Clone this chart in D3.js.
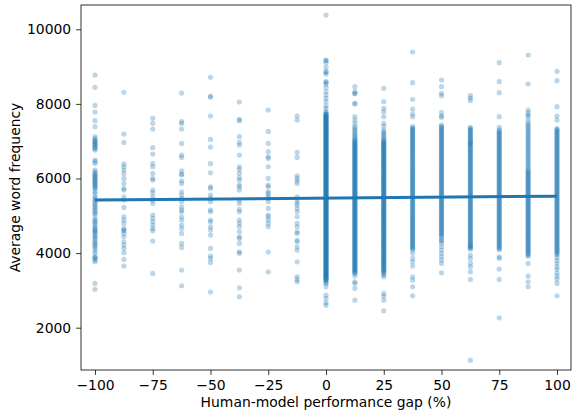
<!DOCTYPE html>
<html><head><meta charset="utf-8">
<script src="https://cdn.jsdelivr.net/npm/d3@7"></script>
<style>body{margin:0;background:#fff}svg{display:block}text{font-family:"DejaVu Sans",sans-serif}</style>
</head><body><svg id="c" width="573" height="419"></svg>
<script>
const gapLevels = [-100, -87.5, -75, -62.5, -50, -37.5, -25, -12.5, 0, 12.5, 25, 37.5, 50, 62.5, 75, 87.5, 100];
const xTicks = [-100, -75, -50, -25, 0, 25, 50, 75, 100];
const yTicks = [2000, 4000, 6000, 8000, 10000];

const freqM100 = [8774, 8443, 7960, 7782, 7549, 7388, 7120, 7070, 7031, 7000, 6985, 6941, 6920, 6900, 6852, 6830, 6800, 6762, 6494, 6450, 6405, 6226, 6180, 6137, 6100, 6090, 6047, 6020, 6000, 5958, 5930, 5910, 5869, 5850, 5820, 5780, 5750, 5730, 5645, 5600, 5511, 5470, 5420, 5378, 5330, 5290, 5243, 5200, 5155, 5110, 5065, 5020, 4920, 4887, 4840, 4800, 4752, 4700, 4660, 4618, 4590, 4570, 4529, 4480, 4440, 4400, 4350, 4300, 4261, 4220, 4180, 4127, 4060, 3993, 3900, 3880, 3859, 3810, 3770, 3188, 3028];
const freqM87 = [8309, 7191, 6968, 6387, 6315, 6226, 6137, 6002, 5869, 5734, 5690, 5511, 5421, 5225, 4974, 4885, 4796, 4661, 4617, 4600, 4527, 4438, 4304, 4214, 4125, 4009, 3830, 3651];
const freqM75 = [7612, 7478, 7326, 6825, 6655, 6405, 6315, 6137, 6002, 5958, 5690, 5618, 5511, 5421, 5332, 5019, 4930, 4840, 4751, 4661, 4599, 4322, 3455];
const freqM62 = [8291, 7522, 7477, 7325, 6941, 6628, 6566, 6208, 6119, 6100, 5940, 5869, 5645, 5555, 5466, 5377, 5243, 5153, 5108, 4974, 4885, 4751, 4661, 4527, 4259, 4152, 3544, 3124];
const freqM50 = [8711, 8211, 8175, 7674, 7048, 6843, 6396, 6154, 5779, 5734, 5555, 5466, 5377, 5153, 5108, 4885, 4840, 4706, 4617, 4483, 4125, 3919, 3857, 3750, 2954];
const freqM37 = [8050, 7585, 7549, 7120, 6968, 6896, 6628, 6315, 6244, 6137, 6020, 5958, 5824, 5779, 5690, 5421, 5332, 5171, 5108, 4885, 4796, 4706, 4572, 4438, 4393, 4259, 4036, 3991, 3544, 3070, 2829];
const freqM25 = [7835, 7263, 6941, 6718, 6583, 6539, 6315, 6002, 5824, 5779, 5645, 5600, 5529, 5466, 5377, 5198, 5019, 4974, 4885, 4796, 4706, 4027, 3499];
const freqM12 = [7674, 7567, 6700, 6566, 6074, 6002, 5940, 5869, 5511, 5421, 5350, 5287, 5198, 5108, 4974, 4796, 4706, 4572, 4527, 4349, 4304, 4170, 4080, 3767, 3365, 3294, 3231];
const freq0 = [10383, 9176, 9160, 9105, 8979, 8863, 8850, 8801, 8595, 8580, 8532, 8443, 8327, 8237, 8148, 8059, 7942, 7880, 7790, 7760, 7728,
 7712, 7697, 7680, 7665, 7648, 7633, 7616, 7601, 7584, 7569, 7552, 7537, 7520, 7505, 7488, 7473, 7456, 7441, 7424, 7409, 7392, 7377, 7360, 7345, 7328, 7313, 7296, 7281, 7264, 7249, 7232, 7217, 7200, 7185, 7168, 7153, 7136, 7121, 7104, 7089, 7072, 7057, 7040, 7025, 7008, 6993, 6976, 6961, 6944, 6929, 6912, 6897, 6880, 6865, 6848, 6833, 6816, 6801, 6784, 6769, 6752, 6737, 6720, 6705, 6688, 6673, 6656, 6641, 6624, 6609, 6592, 6577, 6560, 6545, 6528, 6513, 6496, 6481, 6464, 6449, 6432, 6417, 6400, 6385, 6368, 6353, 6336, 6321, 6304, 6289, 6272, 6257, 6240, 6225, 6208, 6193, 6176, 6161, 6144, 6129, 6112, 6097, 6080, 6065, 6048, 6033, 6016, 6001, 5984, 5969, 5952, 5937, 5920, 5905, 5888, 5873, 5856, 5841, 5824, 5809, 5792, 5777, 5760, 5745, 5728, 5713, 5696, 5681, 5664, 5649, 5632, 5617, 5600, 5585, 5568, 5553, 5536, 5521, 5504, 5489, 5472, 5457, 5440, 5425, 5408, 5393, 5376, 5361, 5344, 5329, 5312, 5297, 5280, 5265, 5248, 5233, 5216, 5201, 5184, 5169, 5152, 5137, 5120, 5105, 5088, 5073, 5056, 5041, 5024, 5009, 4992, 4977, 4960, 4945, 4928, 4913, 4896, 4881, 4864, 4849, 4832, 4817, 4800, 4785, 4768, 4753, 4736, 4721, 4704, 4689, 4672, 4657, 4640, 4625, 4608, 4593, 4576, 4561, 4544, 4529, 4512, 4497, 4480, 4465, 4448, 4433, 4416, 4401, 4384, 4369, 4352, 4337, 4320, 4305, 4288, 4273, 4256, 4241, 4224, 4209, 4192, 4177, 4160, 4145, 4128, 4113, 4096, 4081, 4064, 4049, 4032, 4017, 4000, 3985, 3968, 3953, 3936, 3921, 3904, 3889, 3872, 3857, 3840, 3825, 3808, 3793, 3776, 3761, 3744, 3729, 3712, 3697, 3680, 3665, 3648, 3633, 3616, 3601, 3584, 3569, 3552, 3537, 3520, 3505, 3488, 3473, 3456, 3441, 3424, 3409, 3392, 3377, 3360, 3345, 3328, 3313, 3296, 3276, 3250, 3215, 3186,
 3097, 2873, 2784, 2668, 2605];
const freq12 = [8461, 8327, 8282, 8270, 8014, 8000, 7656, 7567, 7478, 7388, 7350, 7299, 7250, 7209, 7160, 7120, 7080,
 7040, 7018, 6996, 6974, 6952, 6930, 6908, 6886, 6864, 6842, 6820, 6798, 6776, 6754, 6732, 6710, 6688, 6666, 6644, 6622, 6600, 6578, 6556, 6534, 6512, 6490, 6468, 6446, 6424, 6402, 6380, 6358, 6336, 6314, 6292, 6270, 6248, 6226, 6204, 6182, 6160, 6138, 6116, 6094, 6072, 6050, 6028, 6006, 5984, 5962, 5940, 5918, 5896, 5874, 5852, 5830, 5808, 5786, 5764, 5742, 5720, 5698, 5676, 5654, 5632, 5610, 5588, 5566, 5544, 5522, 5500, 5478, 5456, 5434, 5412, 5390, 5368, 5346, 5324, 5302, 5280, 5258, 5236, 5214, 5192, 5170, 5148, 5126, 5104, 5082, 5060, 5038, 5016, 4994, 4972, 4950, 4928, 4906, 4884, 4862, 4840, 4818, 4796, 4774, 4752, 4730, 4708, 4686, 4664, 4642, 4620, 4598, 4576, 4554, 4532, 4510, 4488, 4466, 4444, 4422, 4400, 4378, 4356, 4334, 4312, 4290, 4268, 4246, 4224, 4202, 4180, 4158, 4136, 4114, 4092, 4070, 4048, 4026, 4004, 3982, 3960, 3938, 3916, 3894, 3872, 3850, 3828, 3806, 3784, 3762, 3740, 3718, 3696, 3674, 3652, 3630, 3608, 3586, 3564, 3542, 3520, 3498, 3476, 3455,
 3383, 3231, 3186, 3052, 2739];
const freq25 = [8416, 8059, 7880, 7790, 7656, 7478, 7400, 7299, 7250, 7209, 7160, 7120, 7075,
 7031, 7009, 6987, 6965, 6943, 6921, 6899, 6877, 6855, 6833, 6811, 6789, 6767, 6745, 6723, 6701, 6679, 6657, 6635, 6613, 6591, 6569, 6547, 6525, 6503, 6481, 6459, 6437, 6415, 6393, 6371, 6349, 6327, 6305, 6283, 6261, 6239, 6217, 6195, 6173, 6151, 6129, 6107, 6085, 6063, 6041, 6019, 5997, 5975, 5953, 5931, 5909, 5887, 5865, 5843, 5821, 5799, 5777, 5755, 5733, 5711, 5689, 5667, 5645, 5623, 5601, 5579, 5557, 5535, 5513, 5491, 5469, 5447, 5425, 5403, 5381, 5359, 5337, 5315, 5293, 5271, 5249, 5227, 5205, 5183, 5161, 5139, 5117, 5095, 5073, 5051, 5029, 5007, 4985, 4963, 4941, 4919, 4897, 4875, 4853, 4831, 4809, 4787, 4765, 4743, 4721, 4699, 4677, 4655, 4633, 4611, 4589, 4567, 4545, 4523, 4501, 4479, 4457, 4435, 4413, 4391, 4369, 4347, 4325, 4303, 4281, 4259, 4237, 4215, 4193, 4171, 4149, 4127, 4105, 4083, 4061, 4039, 4017, 3995, 3973, 3951, 3929, 3907, 3885, 3863, 3841, 3819, 3797, 3775, 3753, 3731, 3709, 3687, 3665, 3643, 3621, 3599, 3577, 3555, 3533, 3511, 3489, 3450, 3410, 3365,
 2918, 2847, 2739, 2453];
const freq37 = [9391, 8568, 8121, 7862, 7728, 7656,
 7388, 7360, 7328, 7300, 7268, 7240, 7208, 7180, 7148, 7120, 7088, 7060, 7028, 7000, 6968, 6940, 6908, 6880, 6848, 6820, 6788, 6760, 6728, 6700, 6668, 6640, 6608, 6580, 6548, 6520, 6488, 6460, 6428, 6400, 6368, 6340, 6308, 6280, 6248, 6220, 6188, 6160, 6128, 6100, 6068, 6040, 6008, 5980, 5948, 5920, 5888, 5860, 5828, 5800, 5768, 5740, 5708, 5680, 5648, 5620, 5588, 5560, 5528, 5500, 5468, 5440, 5408, 5380, 5348, 5320, 5288, 5260, 5228, 5200, 5168, 5140, 5108, 5080, 5048, 5020, 4988, 4960, 4928, 4900, 4868, 4840, 4808, 4780, 4748, 4720, 4688, 4660, 4628, 4600, 4568, 4540, 4508, 4480, 4448, 4420, 4388, 4360, 4328, 4300, 4268, 4240, 4208, 4180, 4148, 4120, 4088,
 3991, 3857, 3767, 3651, 3365, 3276, 3097, 2856];
const freq50 = [8640, 8461, 8282, 8220, 7764, 7674, 7639, 7433,
 7395, 7365, 7335, 7305, 7275, 7245, 7215, 7185, 7155, 7125, 7095, 7065, 7035, 7005, 6975, 6945, 6915, 6885, 6855, 6825, 6795, 6765, 6735, 6705, 6675, 6645, 6615, 6585, 6555, 6525, 6495, 6465, 6435, 6405, 6375, 6345, 6315, 6285, 6255, 6225, 6195, 6165, 6135, 6105, 6075, 6045, 6015, 5985, 5955, 5925, 5895, 5865, 5835, 5805, 5775, 5745, 5715, 5685, 5655, 5625, 5595, 5565, 5535, 5505, 5475, 5445, 5415, 5385, 5355, 5325, 5295, 5265, 5235, 5205, 5175, 5145, 5115, 5085, 5055, 5025, 4995, 4965, 4935, 4905, 4875, 4845, 4815, 4785, 4755, 4725, 4695, 4665, 4635, 4605, 4575, 4545, 4515, 4485, 4455,
 4400, 4350, 4320, 4259, 4170, 4080, 3990, 3902, 3812, 3723, 3472];
const freq62 = [8220, 8157, 8085, 7370,
 7343, 7313, 7283, 7253, 7223, 7193, 7163, 7133, 7103, 7073, 7043, 7013, 6983, 6953, 6941, 6923, 6893, 6863, 6833, 6803, 6773, 6743, 6713, 6683, 6653, 6623, 6593, 6563, 6533, 6503, 6473, 6443, 6413, 6383, 6353, 6323, 6293, 6263, 6233, 6203, 6173, 6143, 6113, 6083, 6053, 6023, 5993, 5963, 5933, 5903, 5873, 5843, 5813, 5783, 5753, 5723, 5693, 5663, 5633, 5603, 5573, 5543, 5513, 5483, 5453, 5423, 5393, 5363, 5333, 5303, 5273, 5243, 5213, 5183, 5153, 5123, 5093, 5063, 5033, 5003, 4973, 4943, 4913, 4883, 4853, 4823, 4793, 4763, 4733, 4703, 4673, 4643, 4613, 4583, 4553, 4523, 4493, 4463, 4433, 4403, 4373, 4343, 4313, 4283, 4253, 4223, 4193, 4163, 4133, 4103,
 4170, 3946, 3857, 3723, 3633, 3499, 3294, 1130];
const freq75 = [9105, 8595, 8300, 7656, 7370,
 7299, 7269, 7239, 7209, 7179, 7149, 7119, 7089, 7059, 7029, 6999, 6969, 6939, 6909, 6879, 6849, 6819, 6789, 6759, 6729, 6699, 6669, 6639, 6609, 6579, 6549, 6519, 6489, 6459, 6429, 6399, 6369, 6339, 6309, 6279, 6249, 6219, 6189, 6159, 6129, 6099, 6069, 6039, 6009, 5979, 5949, 5919, 5889, 5859, 5829, 5799, 5769, 5739, 5709, 5679, 5649, 5619, 5589, 5559, 5529, 5499, 5469, 5439, 5409, 5379, 5349, 5319, 5289, 5259, 5229, 5199, 5169, 5139, 5109, 5079, 5049, 5019, 4989, 4959, 4929, 4899, 4869, 4839, 4809, 4779, 4749, 4719, 4689, 4659, 4629, 4599, 4569, 4539, 4509, 4479, 4449, 4419, 4389, 4359, 4329, 4299, 4269, 4239, 4209, 4179, 4149, 4119, 4089,
 3902, 3857, 3571, 3294, 2266];
const freq87 = [9310, 8532, 7835, 7760, 7700, 7656, 7560,
 7486, 7440, 7396, 7350, 7306, 7260, 7216, 7170, 7126, 7080, 7036, 6990, 6946, 6900, 6856, 6810, 6766, 6720, 6676, 6630, 6586, 6540, 6496, 6450, 6406, 6360, 6316, 6270, 6226, 6196, 6166, 6136, 6106, 6076, 6046, 6016, 5986, 5956, 5926, 5896, 5866, 5836, 5806, 5776, 5746, 5716, 5686, 5656, 5626, 5596, 5566, 5536, 5506, 5476, 5446, 5416, 5386, 5356, 5326, 5296, 5266, 5236, 5206, 5176, 5146, 5116, 5086, 5056, 5026, 4996, 4966, 4936, 4906, 4876, 4846, 4816, 4786, 4756, 4726, 4696, 4666, 4636, 4606, 4576, 4546, 4516, 4486, 4456, 4426, 4396, 4366, 4336, 4306, 4276, 4246, 4216, 4186, 4156, 4126, 4096, 4066, 4036, 4006, 3976, 3946, 3916,
 3723, 3383, 3231, 3097];
const freq100 = [8872, 8622, 7924, 7674, 7567,
 7343, 7313, 7283, 7253, 7223, 7193, 7163, 7133, 7103, 7073, 7043, 7013, 6983, 6953, 6923, 6893, 6863, 6833, 6803, 6773, 6743, 6713, 6683, 6653, 6623, 6593, 6563, 6533, 6503, 6473, 6443, 6413, 6383, 6353, 6323, 6293, 6263, 6233, 6203, 6173, 6143, 6113, 6083, 6053, 6023, 5993, 5963, 5933, 5903, 5873, 5843, 5813, 5783, 5753, 5723, 5693, 5663, 5633, 5603, 5573, 5543, 5513, 5483, 5453, 5423, 5393, 5363, 5333, 5303, 5273, 5243, 5213, 5183, 5153, 5123, 5093, 5063, 5033, 5003, 4973, 4943, 4913, 4883, 4853, 4823, 4793, 4763, 4733, 4703, 4673, 4643, 4613, 4583, 4553, 4523, 4493, 4463, 4433, 4403, 4373, 4343, 4313, 4283, 4253, 4223, 4193, 4163, 4133, 4103, 4073, 4043, 4013, 3983, 3953,
 3880, 3800, 3720, 3630, 3560, 3460, 3380, 3300, 3186, 2856];

const regX = [-100, 100];
const regY = [5425, 5525];
const ciX = [-100, -50, 0, 50, 100];
const ciLo = [5385, 5425, 5458, 5480, 5495];
const ciHi = [5465, 5458, 5482, 5510, 5555];

const columns = [freqM100, freqM87, freqM75, freqM62, freqM50, freqM37, freqM25, freqM12, freq0, freq12, freq25, freq37, freq50, freq62, freq75, freq87, freq100];
const points = [];
columns.forEach((col, i) => col.forEach(v => points.push({x: gapLevels[i], y: v})));

const svg = d3.select("#c");
const L = 81, R = 571, T = 5, B = 370;
const x = d3.scaleLinear().domain([-106.06, 106.06]).range([L, R]);
const y = d3.scaleLinear().domain([866, 10651]).range([B, T]);
const blue = "#1f77b4";

svg.append("g").selectAll("circle").data(points).join("circle")
  .attr("cx", d => x(d.x)).attr("cy", d => y(d.y)).attr("r", 2.6)
  .attr("fill", blue).attr("fill-opacity", 0.3);

const band = ciX.map((v, i) => ({x: v, lo: ciLo[i], hi: ciHi[i]}));
svg.append("path").datum(band)
  .attr("d", d3.area().x(d => x(d.x)).y0(d => y(d.lo)).y1(d => y(d.hi)).curve(d3.curveMonotoneX))
  .attr("fill", blue).attr("fill-opacity", 0.15);
svg.append("path").datum(regX.map((v, i) => [v, regY[i]]))
  .attr("d", d3.line().x(d => x(d[0])).y(d => y(d[1])))
  .attr("stroke", blue).attr("stroke-width", 3).attr("fill", "none");

const fs = "13.9px";
const xa = svg.append("g").attr("transform", `translate(0,${B})`)
  .call(d3.axisBottom(x).tickValues(xTicks).tickSize(4.9).tickPadding(4.9));
const ya = svg.append("g").attr("transform", `translate(${L},0)`)
  .call(d3.axisLeft(y).tickValues(yTicks).tickFormat(d3.format("d")).tickSize(4.9).tickPadding(4.9));
[xa, ya].forEach(a => {
  a.select(".domain").remove();
  a.selectAll("line").attr("stroke", "#000").attr("stroke-width", 0.8);
  a.selectAll("text").attr("font-size", fs).attr("fill", "#000").attr("font-family", "DejaVu Sans");
});
svg.append("rect").attr("x", L).attr("y", T).attr("width", R - L).attr("height", B - T)
  .attr("fill", "none").attr("stroke", "#000").attr("stroke-width", 0.8);

svg.append("text").attr("x", (L + R) / 2).attr("y", 407).attr("text-anchor", "middle")
  .attr("font-size", fs).text("Human-model performance gap (%)");
svg.append("text").attr("transform", `translate(20,${(T + B) / 2}) rotate(-90)`).attr("text-anchor", "middle")
  .attr("font-size", fs).text("Average word frequency");
</script></body></html>
